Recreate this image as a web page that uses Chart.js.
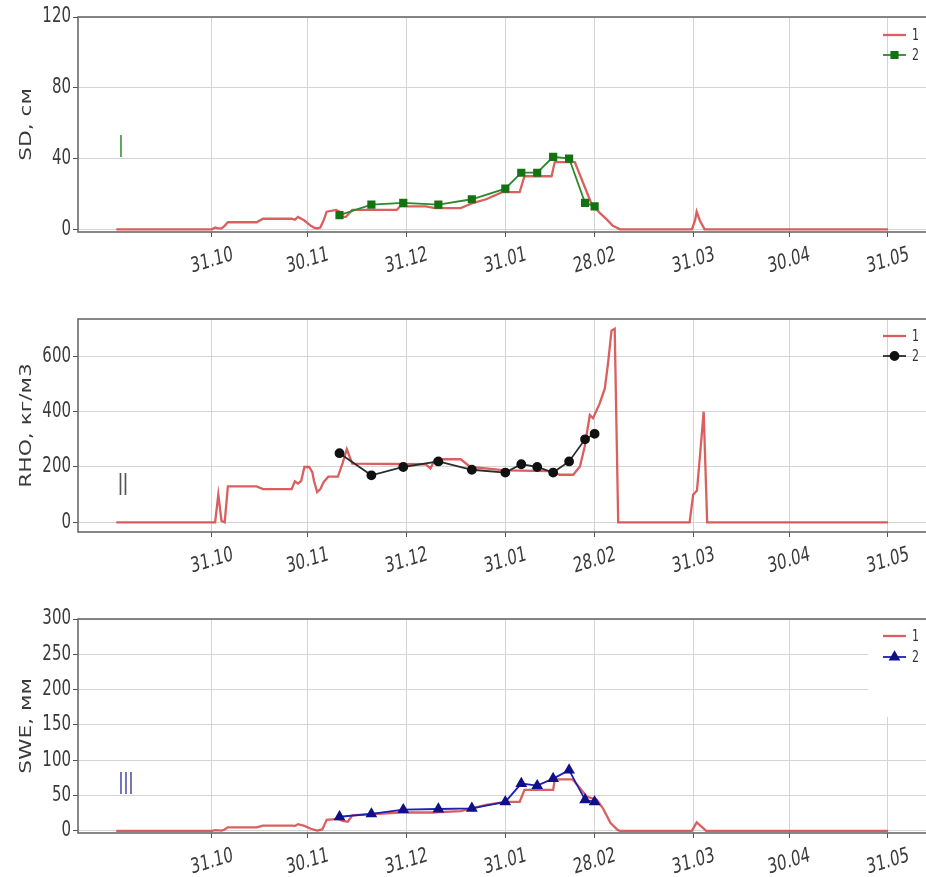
<!DOCTYPE html>
<html>
<head>
<meta charset="utf-8">
<script src="https://cdn.jsdelivr.net/npm/chart.js@4.4.0/dist/chart.umd.min.js"></script>
<style>
  html, body { margin: 0; padding: 0; background: #fff; overflow: hidden; width: 926px; height: 877px; }
  .panel { position: absolute; left: 0; }
</style>
</head>
<body>
<div class="panel" style="top:0"><canvas id="sdChart" width="940" height="290"></canvas></div>
<div class="panel" style="top:300px"><canvas id="rhoChart" width="940" height="290"></canvas></div>
<div class="panel" style="top:600px"><canvas id="sweChart" width="940" height="277"></canvas></div>

<script>
// days counted from 01.10
const tickDays = [30, 60, 91, 122, 150, 181, 211, 242];
const tickLabels = ['31.10', '30.11', '31.12', '31.01', '28.02', '31.03', '30.04', '31.05'];

// observation dates (series 2, same for all panels)
const obsDays = [70, 80, 90, 101, 111.5, 122, 127, 132, 137, 142, 147, 150];

// SD, cm
const sdModelDays = [0, 30, 31, 32, 33, 34, 35, 44, 46, 55, 56, 57, 59, 61, 62, 63, 64, 65, 66, 69, 70, 71, 72, 73, 74, 88, 89, 97, 100, 108, 112, 116, 121, 126.5, 128, 136.5, 137.5, 142, 143.8, 147, 149, 151.6, 153.8, 155.7, 158, 180.5, 181.5, 182, 183, 184.5, 242];
const sdModel = [0, 0, 1, 0.5, 0.5, 2, 4, 4, 6, 6, 5.5, 7, 5, 2, 1, 0.5, 1, 5, 10, 11, 10, 7, 7, 9, 11, 11, 13, 13, 12, 12, 15, 17, 21, 21, 30, 30, 38, 38, 38, 23.5, 14.5, 9.3, 5.6, 2, 0, 0, 5, 10, 5, 0, 0];
const sdObs = [8, 14, 15, 14, 17, 23, 32, 32, 41, 40, 15, 13];

// RHO, kg/m3
const rhoModelDays = [0, 30, 31, 32, 33, 34, 35, 44, 46, 55, 56, 57, 58, 59, 60.5, 61.5, 62, 63, 64, 65, 66.5, 69.5, 71, 72.3, 74, 97, 98.5, 100, 108, 111, 122, 136, 139, 143.3, 145.4, 146.9, 148.5, 149.5, 151.6, 153.2, 154.2, 155.3, 156.3, 157.4, 179.8, 180.9, 182.1, 183.2, 184.2, 185.3, 242];
const rhoModel = [0, 0, 0, 100, 5, 0, 130, 130, 120, 120, 148, 140, 150, 200, 200, 180, 150, 109, 120, 145, 165, 165, 215, 265, 212, 210, 195, 228, 228, 200, 188, 185, 172, 172, 202, 274, 388, 376, 430, 484, 574, 693, 700, 0, 0, 100, 115, 262, 400, 0, 0];
const rhoObs = [250, 170, 200, 220, 190, 180, 210, 200, 180, 220, 300, 320];

// SWE, mm
const sweModelDays = [0, 30, 31, 33, 34, 35, 44, 46, 55, 56, 57, 59, 61, 63, 64.6, 66, 69.5, 71, 72.6, 74, 89, 99, 108, 116, 122, 126.5, 128, 137, 137.5, 143, 145, 147.5, 150.7, 152.6, 155, 157.3, 158, 180.5, 182, 185, 242];
const sweModel = [0, 0, 1, 0.5, 2, 5, 5, 7.5, 7.5, 7, 9.4, 7, 3, 0.5, 2, 15.6, 17, 14, 13, 22, 26, 26, 28, 36.8, 41, 41, 58, 58, 73, 73, 63, 48.6, 44, 32, 11, 1, 0, 0, 12, 0, 0];
const sweObs = [20, 24, 30, 31, 32, 41, 67, 64, 74, 86, 44, 41];

const sdTicks = [0, 40, 80, 120];
const rhoTicks = [0, 200, 400, 600];
const sweTicks = [0, 50, 100, 150, 200, 250, 300];

function toPoints(xs, ys) {
    return xs.map((x, i) => ({ x: x, y: ys[i] }));
}

const RED = 'rgba(214, 78, 78, 0.9)';
const TEXT = '#3a3a3a';
const FONT = '"DejaVu Sans", sans-serif';
const STRETCH = 1.4;   // the source picture is taller than wide

// text drawn slightly stretched vertically, like in the source
function stretchedText(ctx, text, x, y, angle, sx, sy) {
    ctx.save();
    ctx.translate(x, y);
    ctx.scale(1, STRETCH);
    ctx.rotate(angle);
    ctx.scale(sx, sy);
    ctx.fillText(text, 0, 0);
    ctx.restore();
}

// draws frame, tick labels, axis title, roman numeral and legend
const panelDecor = {
    id: 'panelDecor',
    beforeDatasetsDraw(chart) {
        const o = chart.options.plugins.panelDecor;
        if (!o.legendBox) return;
        const ctx = chart.ctx;
        ctx.save();
        ctx.fillStyle = '#fff';
        ctx.fillRect(o.legendBox[0], o.legendBox[1], o.legendBox[2], o.legendBox[3]);
        ctx.restore();
    },
    afterDraw(chart) {
        const o = chart.options.plugins.panelDecor;
        const ctx = chart.ctx;
        const area = chart.chartArea;
        const xs = chart.scales.x;
        const ys = chart.scales.y;
        ctx.save();

        // frame
        ctx.strokeStyle = '#6a6a6a';
        ctx.lineWidth = 1.6;
        ctx.strokeRect(area.left, area.top, area.right - area.left, area.bottom - area.top);

        ctx.fillStyle = TEXT;
        ctx.textBaseline = 'middle';

        // date labels
        ctx.font = '15px ' + FONT;
        ctx.textAlign = 'center';
        tickDays.forEach((d, i) => {
            stretchedText(ctx, tickLabels[i], xs.getPixelForValue(d), area.bottom + 29, -12.5 * Math.PI / 180, 1, 1);
        });

        // y tick labels
        ctx.textAlign = 'right';
        o.yTicks.forEach(v => {
            stretchedText(ctx, String(v), area.left - 7, ys.getPixelForValue(v), 0, 1, 1);
        });

        // y title, drawn along the axis
        ctx.save();
        ctx.font = '15px ' + FONT;
        ctx.textAlign = 'center';
        ctx.translate(27, (area.top + area.bottom) / 2);
        ctx.rotate(-Math.PI / 2);
        ctx.scale(1.45, 1);
        ctx.fillText(o.yTitle, 0, 0);
        ctx.restore();

        // roman numeral
        ctx.fillStyle = o.numeral.color;
        ctx.font = '21px ' + FONT;
        ctx.textAlign = 'center';
        stretchedText(ctx, o.numeral.text, o.numeral.x, o.numeral.y, 0, 0.8, 1);

        // legend
        const ds = chart.data.datasets;
        const lx1 = 883, lx2 = 906;
        ctx.font = '11px ' + FONT;
        ctx.textAlign = 'left';
        [ds[1], ds[0]].forEach((set, i) => {
            const y = o.legendY[i];
            ctx.strokeStyle = set.borderColor;
            ctx.lineWidth = set.borderWidth;
            ctx.beginPath();
            ctx.moveTo(lx1, y);
            ctx.lineTo(lx2, y);
            ctx.stroke();
            if (set.pointRadius > 0) {
                ctx.fillStyle = set.pointBackgroundColor;
                ctx.strokeStyle = set.pointBorderColor;
                Chart.helpers.drawPoint(ctx, {
                    pointStyle: set.pointStyle,
                    radius: set.pointRadius,
                    borderWidth: 1
                }, (lx1 + lx2) / 2, y);
            }
            ctx.fillStyle = '#333';
            stretchedText(ctx, set.label, 912, y + 1, 0, 1, 1);
        });
        ctx.restore();
    }
};

function makePanel(canvasId, cfg) {
    const ctx = document.getElementById(canvasId);
    return new Chart(ctx, {
        type: 'line',
        data: {
            datasets: [
                {
                    label: '2',
                    data: toPoints(obsDays, cfg.obs),
                    borderColor: cfg.obsLine,
                    backgroundColor: cfg.obsMarker,
                    borderWidth: 1.8,
                    pointStyle: cfg.pointStyle,
                    pointRadius: cfg.pointRadius,
                    pointBorderColor: cfg.obsMarker,
                    pointBackgroundColor: cfg.obsMarker,
                    tension: 0,
                    order: 1
                },
                {
                    label: '1',
                    data: toPoints(cfg.modelDays, cfg.model),
                    borderColor: RED,
                    backgroundColor: RED,
                    borderWidth: 2.3,
                    pointRadius: 0,
                    tension: 0,
                    order: 2
                }
            ]
        },
        options: {
            responsive: false,
            animation: false,
            events: [],
            layout: { padding: { top: cfg.top, right: 8, left: 0, bottom: 0 } },
            plugins: {
                legend: { display: false },
                tooltip: { enabled: false },
                panelDecor: {
                    numeral: cfg.numeral,
                    legendY: cfg.legendY,
                    legendBox: cfg.legendBox,
                    yTicks: cfg.yTicks,
                    yTitle: cfg.yTitle
                }
            },
            scales: {
                x: {
                    type: 'linear',
                    min: -12,
                    max: 255.8,
                    afterBuildTicks: (s) => { s.ticks = tickDays.map(v => ({ value: v })); },
                    afterFit: (s) => { s.height = cfg.xAxisHeight; },
                    ticks: { display: false },
                    border: { display: false },
                    grid: { color: '#d4d4d4', lineWidth: 1, tickLength: 5, tickColor: '#555' }
                },
                y: {
                    min: cfg.yMin,
                    max: cfg.yMax,
                    afterBuildTicks: (s) => { s.ticks = cfg.yTicks.map(v => ({ value: v })); },
                    afterFit: (s) => { s.width = 78; },
                    ticks: { display: false },
                    border: { display: false },
                    grid: { color: '#d4d4d4', lineWidth: 1, tickLength: 5, tickColor: '#555' }
                }
            }
        },
        plugins: [panelDecor]
    });
}

makePanel('sdChart', {
    top: 17, xAxisHeight: 58,
    yMin: -1.5, yMax: 120, yTicks: sdTicks, yTitle: 'SD, см',
    modelDays: sdModelDays, model: sdModel, obs: sdObs,
    obsLine: '#2a8a2a', obsMarker: '#137313', pointStyle: 'rect', pointRadius: 4.5,
    numeral: { text: 'I', color: '#3c9a3c', x: 121, y: 149 },
    legendY: [35, 55]
});

makePanel('rhoChart', {
    top: 19, xAxisHeight: 58,
    yMin: -35, yMax: 735, yTicks: rhoTicks, yTitle: 'RHO, кг/м3',
    modelDays: rhoModelDays, model: rhoModel, obs: rhoObs,
    obsLine: '#2b2b2b', obsMarker: '#111', pointStyle: 'circle', pointRadius: 4,
    numeral: { text: 'II', color: '#555', x: 123, y: 187 },
    legendY: [36, 56]
});

makePanel('sweChart', {
    top: 19, xAxisHeight: 44,
    yMin: -3, yMax: 300, yTicks: sweTicks, yTitle: 'SWE, мм',
    modelDays: sweModelDays, model: sweModel, obs: sweObs,
    obsLine: '#1f1fb0', obsMarker: '#10108a', pointStyle: 'triangle', pointRadius: 5,
    numeral: { text: 'III', color: '#5a5ab0', x: 126, y: 186 },
    legendY: [36, 57],
    legendBox: [868, 20, 72, 97]
});
</script>
</body>
</html>
